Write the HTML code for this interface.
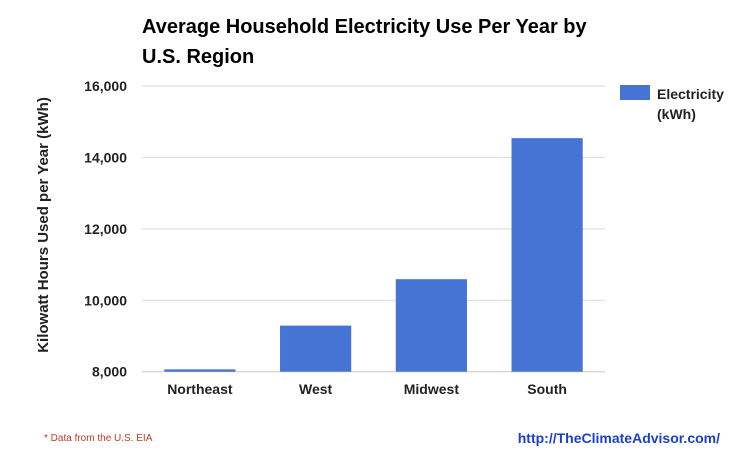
<!DOCTYPE html>
<html><head><meta charset="utf-8"><style>
body{margin:0;background:#fff;}
svg text{font-family:"Liberation Sans",Arial,sans-serif;}
</style></head><body>
<svg width="743" height="457" viewBox="0 0 743 457">
<text x="142" y="33" font-size="20" font-weight="bold" fill="#000">Average Household Electricity Use Per Year by</text>
<text x="142" y="63" font-size="20" font-weight="bold" fill="#000">U.S. Region</text>
<g id="grid"></g>
<g id="bars"></g>
<g id="xlabels"></g>
<text transform="translate(48,225) rotate(-90)" text-anchor="middle" font-size="15" font-weight="bold" fill="#222">Kilowatt Hours Used per Year (kWh)</text>
<rect x="620" y="85" width="30" height="15" fill="#4574d4"/>
<text x="657" y="99" font-size="14" font-weight="bold" fill="#222">Electricity</text>
<text x="657" y="119" font-size="14" font-weight="bold" fill="#222">(kWh)</text>
<text x="44" y="441" font-size="10" fill="#c0392b">* Data from the U.S. EIA</text>
<text x="720" y="443" text-anchor="end" font-size="14" font-weight="bold" fill="#1a3fd0">http://TheClimateAdvisor.com/</text>
</svg>
<script>
const categories=["Northeast","West","Midwest","South"];
const values=[8065,9290,10590,14540];
const ticks=[8000,10000,12000,14000,16000];
const tickLabels=["8,000","10,000","12,000","14,000","16,000"];
const NS="http://www.w3.org/2000/svg";
const plotLeft=142,plotRight=605,plotTop=86,plotBottom=371.7,ymin=8000,ymax=16000;
function yScale(v){return plotBottom-(v-ymin)/(ymax-ymin)*(plotBottom-plotTop);}
const band=(plotRight-plotLeft)/categories.length;
function xScale(i){return plotLeft+band*(i+0.5);}
const gridG=document.getElementById('grid');
ticks.forEach(function(t,i){
  const l=document.createElementNS(NS,'line');
  l.setAttribute('x1',plotLeft);l.setAttribute('x2',plotRight);
  l.setAttribute('y1',yScale(t));l.setAttribute('y2',yScale(t));
  l.setAttribute('stroke',i===0?'#c8c8c8':'#d9d9d9');l.setAttribute('stroke-width','1');
  
  
  gridG.appendChild(l);
  const tx=document.createElementNS(NS,'text');
  tx.setAttribute('x',127);tx.setAttribute('y',yScale(t)+5);
  tx.setAttribute('text-anchor','end');tx.setAttribute('font-size','14');
  tx.setAttribute('font-weight','bold');tx.setAttribute('fill','#222');
  tx.textContent=tickLabels[i];
  
  
  gridG.appendChild(tx);
});
const barsG=document.getElementById('bars'),xlG=document.getElementById('xlabels');
const bw=band*0.615;
values.forEach(function(v,i){
  const r=document.createElementNS(NS,'rect');
  r.setAttribute('x',xScale(i)-bw/2);r.setAttribute('width',bw);
  r.setAttribute('y',yScale(v));r.setAttribute('height',plotBottom-yScale(v));
  r.setAttribute('fill','#4574d4');
  
  
  barsG.appendChild(r);
  const t=document.createElementNS(NS,'text');
  t.setAttribute('x',xScale(i));t.setAttribute('y',394);
  t.setAttribute('text-anchor','middle');t.setAttribute('font-size','14');
  t.setAttribute('font-weight','bold');t.setAttribute('fill','#222');
  t.textContent=categories[i];
  
  
  xlG.appendChild(t);
});
</script>
</body></html>
